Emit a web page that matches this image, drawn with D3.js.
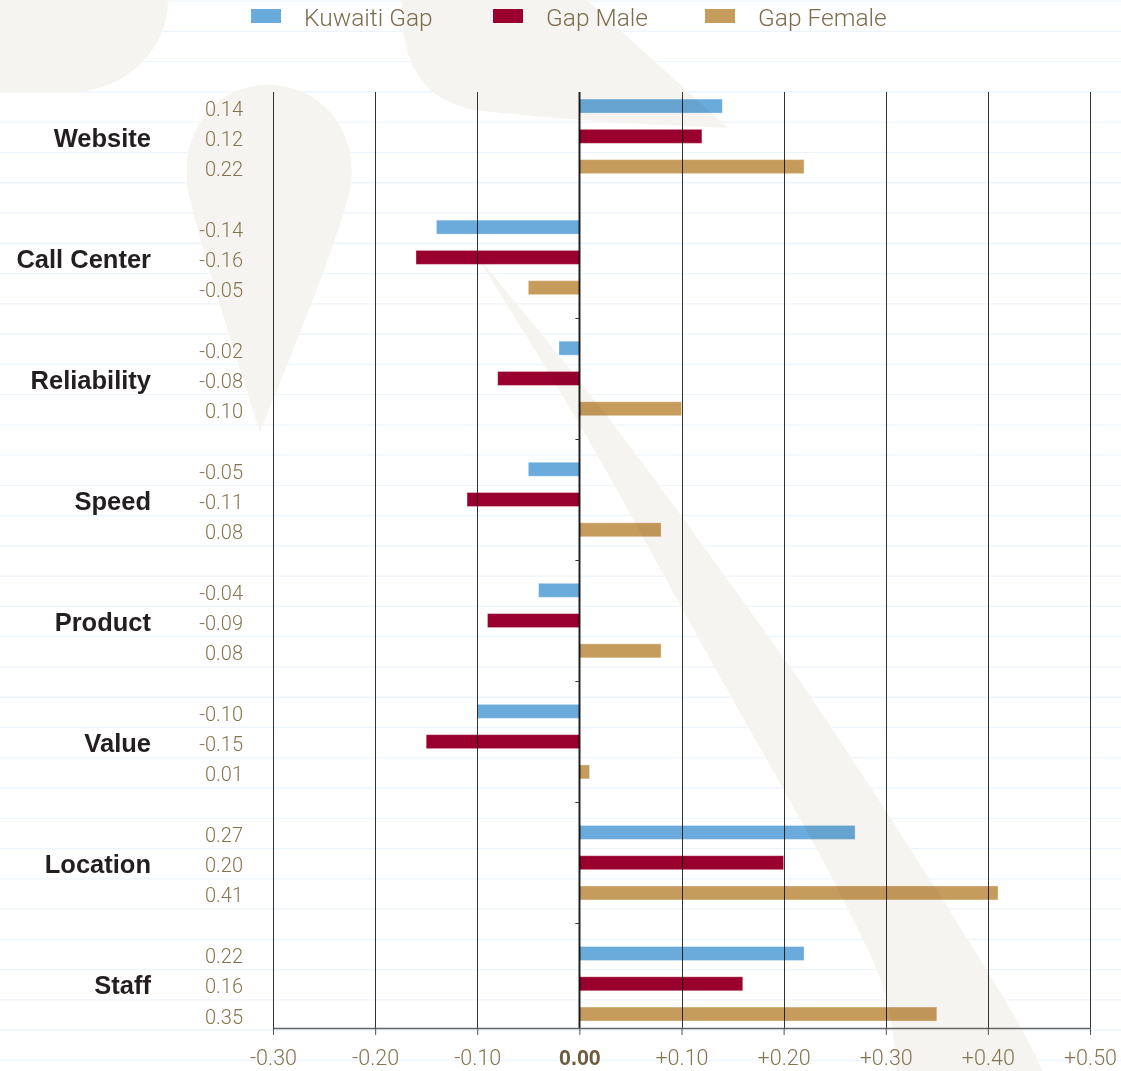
<!DOCTYPE html>
<html>
<head>
<meta charset="utf-8">
<script src="https://cdn.jsdelivr.net/npm/d3@7"></script>
<style>
  html, body { margin: 0; padding: 0; background: #ffffff; }
  svg { display: block; }
  .light { font-family: Roboto, 'Liberation Sans', Arial, sans-serif; font-weight: 300; }
</style>
</head>
<body>
<script>
// Service gap scores by touchpoint
const categories = ["Website", "Call Center", "Reliability", "Speed", "Product", "Value", "Location", "Staff"];
const seriesNames = ["Kuwaiti Gap", "Gap Male", "Gap Female"];
const kuwaitiGap = [0.14, -0.14, -0.02, -0.05, -0.04, -0.10, 0.27, 0.22];
const gapMale    = [0.12, -0.16, -0.08, -0.11, -0.09, -0.15, 0.20, 0.16];
const gapFemale  = [0.22, -0.05, 0.10, 0.08, 0.08, 0.01, 0.41, 0.35];
const xTicks = [-0.30, -0.20, -0.10, 0.00, 0.10, 0.20, 0.30, 0.40, 0.50];
const seriesColors = ["#6aabdc", "#99002e", "#c69c5d"];

const W = 1121, H = 1071;
const seriesValues = [kuwaitiGap, gapMale, gapFemale];

const svg = d3.select("body").append("svg")
  .attr("width", W).attr("height", H)
  .style("font-family", "'Liberation Sans', Arial, Helvetica, sans-serif");

svg.append("rect").attr("width", W).attr("height", H).attr("fill", "#ffffff");

const x = d3.scaleLinear().domain([-0.30, 0.50]).range([273, 1090]);
const y = d3.scaleBand().domain(categories).range([75.8, 1044.3]);
const rowStep = y.bandwidth() / 4;
const ySub = d3.scalePoint().domain(seriesNames).range([-rowStep, rowStep]);
const barH = 14;
const plotTop = 92, axisY = 1028;

// ruled background lines, one per bar row
const ruleG = svg.append("g");
for (let k = -3; ; k++) {
  const yy = y(categories[0]) + rowStep * (k + 0.5) + 1;
  if (yy > H) break;
  ruleG.append("line")
    .attr("x1", 0).attr("x2", W).attr("y1", yy).attr("y2", yy)
    .attr("stroke", "#edf5fc").attr("stroke-width", 1.3);
}

// decorative background shapes
const deco = svg.append("g").attr("fill", "#f6f4f0");
deco.append("path").attr("d", "M0,0 H168 A98,92 0 0 1 70,92 H0 Z");
deco.append("path").attr("d", "M402,0 C400,60 420,100 475,110 C560,120 650,125 728,128 L587,0 Z");
deco.append("path").attr("d", "M260,432 C240,370 205,260 190,200 C175,140 210,85 268,85 C325,85 360,135 350,190 C335,250 285,370 260,432 Z");
const leftEdge = [[474,252],[577,420],[705,650],[850,913],[887,1000],[898,1090]];
const rightEdge = [[1050,1090],[1043,1071],[1005,1000],[813,700],[778,650],[610,420],[474,252]];
const edge = d3.line().curve(d3.curveCatmullRom);
deco.append("path").attr("d", edge(leftEdge) + "L" + edge(rightEdge).slice(1) + "Z");

// vertical gridlines
svg.append("g").selectAll("line").data(xTicks).join("line")
  .attr("x1", d => Math.round(x(d)) + 0.5).attr("x2", d => Math.round(x(d)) + 0.5)
  .attr("y1", plotTop).attr("y2", axisY)
  .attr("stroke", d => d === 0 ? "#222" : "#333")
  .attr("stroke-width", d => d === 0 ? 2 : 1);

// bars
const barG = svg.append("g").style("mix-blend-mode", "multiply");
categories.forEach((c, i) => {
  seriesNames.forEach((s, j) => {
    const v = seriesValues[j][i];
    const cy = y(c) + y.bandwidth() / 2 + ySub(s);
    barG.append("rect")
      .attr("x", Math.min(x(0), x(v)))
      .attr("width", Math.abs(x(v) - x(0)))
      .attr("y", cy - barH / 2)
      .attr("height", barH)
      .attr("fill", seriesColors[j])
      .attr("stroke", "#ffffff").attr("stroke-opacity", 0.35).attr("stroke-width", 1);
  });
});

// small category ticks on the zero line
svg.append("g").selectAll("line").data(categories.slice(2)).join("line")
  .attr("x1", x(0) - 4).attr("x2", x(0))
  .attr("y1", d => Math.round(y(d)) + 0.5).attr("y2", d => Math.round(y(d)) + 0.5)
  .attr("stroke", "#333").attr("stroke-width", 1);

// x axis
const xAxis = d3.axisBottom(x).tickValues(xTicks).tickSize(7).tickSizeOuter(0)
  .tickFormat(d => d === 0 ? "0.00" : (d > 0 ? "+" : "") + d.toFixed(2));
const axG = svg.append("g").attr("transform", `translate(0,${axisY})`).call(xAxis);
axG.attr("font-family", null).attr("font-size", null);
axG.select(".domain").attr("stroke", "#666").attr("stroke-width", 1.5);
axG.selectAll(".tick line").attr("stroke", "#555");
axG.selectAll(".tick text")
  .attr("y", 37).attr("dy", null)
  .attr("class", d => d === 0 ? null : "light")
  .attr("fill", d => d === 0 ? "#6e5c3c" : "#85744f")
  .style("font-size", "21.5px")
  .style("font-weight", d => d === 0 ? "bold" : null);

// category labels
svg.append("g").selectAll("text").data(categories).join("text")
  .attr("x", 151).attr("y", d => y(d) + y.bandwidth() / 2 + 10.5)
  .attr("text-anchor", "end")
  .attr("fill", "#231f20")
  .style("font-size", "25.5px").style("font-weight", "bold")
  .text(d => d);

// value labels
const valG = svg.append("g").attr("class", "light");
categories.forEach((c, i) => {
  seriesNames.forEach((s, j) => {
    const v = seriesValues[j][i];
    valG.append("text")
      .attr("x", 243).attr("y", y(c) + y.bandwidth() / 2 + ySub(s) + 9.5)
      .attr("text-anchor", "end")
      .attr("fill", "#85744f")
      .style("font-size", "20px")
      .text(v.toFixed(2));
  });
});

// legend
const legendX = [251, 493, 705];
const legG = svg.append("g").attr("class", "light");
seriesNames.forEach((s, j) => {
  legG.append("rect").attr("x", legendX[j]).attr("y", 9).attr("width", 30).attr("height", 14)
    .attr("fill", seriesColors[j]);
  legG.append("text").attr("x", legendX[j] + 53).attr("y", 26)
    .attr("fill", "#7d6c4e").style("font-size", "24.5px").text(s);
});
</script>
</body>
</html>
